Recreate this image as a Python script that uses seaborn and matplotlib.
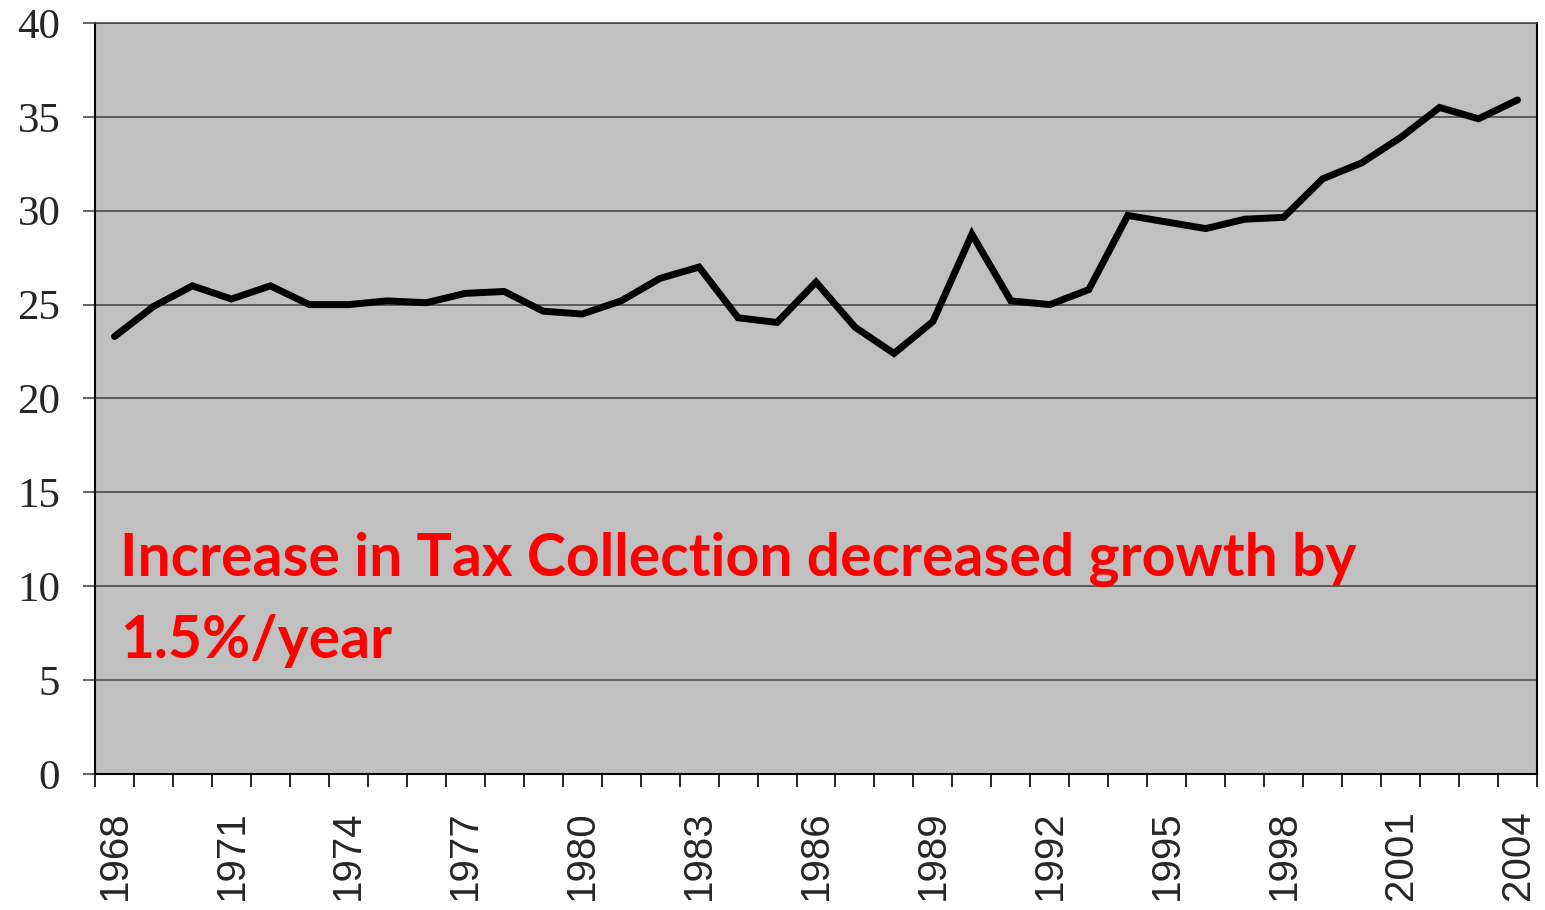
import matplotlib
matplotlib.use("Agg")
import matplotlib.pyplot as plt
import seaborn as sns
import pandas as pd
import numpy as np

years = list(range(1968, 2005))
values = [23.3, 24.9, 26.0, 25.3, 26.0, 25.0, 25.0, 25.2, 25.1, 25.6, 25.7, 24.65,
          24.5, 25.2, 26.4, 27.0, 24.3, 24.05, 26.2, 23.8, 22.4, 24.1, 28.75, 25.2,
          25.0, 25.8, 29.75, 29.4, 29.05, 29.55, 29.65, 31.7, 32.55, 33.9, 35.5,
          34.9, 35.9]
y_ticks = [0, 5, 10, 15, 20, 25, 30, 35, 40]
x_label_years = years[::3]
annotation = "Increase in Tax Collection decreased growth by\n1.5%/year"

df = pd.DataFrame({"pos": np.arange(len(years)), "value": values})

sns.set_theme(style="white")
fig = plt.figure(figsize=(15.45, 9.10), dpi=100)
ax = fig.add_axes([95 / 1545, 1 - 774 / 910, 1442 / 1545, 751 / 910])
ax.set_facecolor("#C0C0C0")

sns.lineplot(data=df, x="pos", y="value", ax=ax, color="black", linewidth=5,
             solid_joinstyle="miter")

ax.set_xlim(-0.5, len(years) - 0.5)
ax.set_ylim(0, 40)
ax.set_yticks(y_ticks)
ax.set_yticklabels([str(t) for t in y_ticks], fontfamily="Liberation Serif", fontsize=31)
ax.yaxis.grid(True, color="#4a4a4a", linewidth=1.2)
ax.set_axisbelow(True)

label_pos = [years.index(y) for y in x_label_years]
ax.set_xticks(label_pos)
ax.set_xticklabels([str(y) for y in x_label_years], rotation=90, fontfamily="Liberation Sans",
                   fontsize=29, va="top", ha="center")
ax.set_xticks(np.arange(-0.5, len(years), 1.0), minor=True)
ax.tick_params(axis="x", which="major", length=0, pad=26, bottom=True)
ax.tick_params(axis="x", which="minor", length=9, width=1.2, color="black", direction="out",
               bottom=True)
ax.tick_params(axis="y", which="major", length=9, width=1.2, color="#4a4a4a", direction="out",
               pad=16, left=True)

for side in ["left", "bottom", "right", "top"]:
    ax.spines[side].set_visible(True)
    ax.spines[side].set_color("black")
    ax.spines[side].set_linewidth(1.5)
ax.spines["top"].set_color("#4a4a4a")
ax.spines["top"].set_linewidth(1.2)

ax.set_xlabel("")
ax.set_ylabel("")

ax.text(25 / 1442, (774 - 658) / 751, annotation, transform=ax.transAxes,
        color="#FF0000", fontfamily="Lato", fontweight="bold", fontsize=42.4,
        va="baseline", ha="left", linespacing=1.62)

fig.savefig("out.png", dpi=100)
